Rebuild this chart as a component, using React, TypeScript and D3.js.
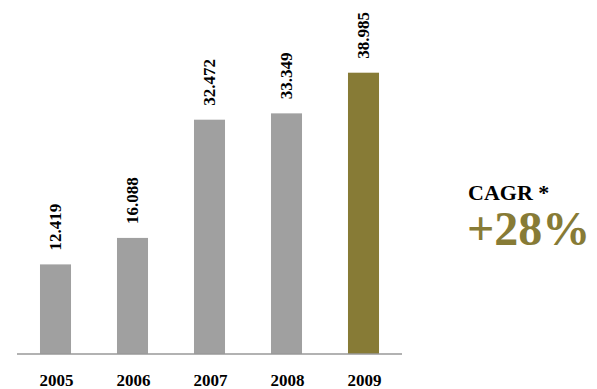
import React from "react";
import * as d3 from "d3";

const years = ["2005", "2006", "2007", "2008", "2009"];
const values = [12.419, 16.088, 32.472, 33.349, 38.985];
const valueLabels = ["12.419", "16.088", "32.472", "33.349", "38.985"];
const cagrTitle = "CAGR *";
const cagrValue = "+28%";

const W = 597;
const H = 389;
const GRAY = "#a0a0a0";
const OLIVE = "#877b36";

export default function App() {
  const x = d3
    .scaleBand<string>()
    .domain(years)
    .range([17, 402])
    .paddingInner(0.597)
    .paddingOuter(0.2985);
  const y = d3.scaleLinear().domain([0, 38.985]).range([354, 72.7]);
  const font = "'Liberation Serif', 'Times New Roman', serif";
  return (
    <svg
      width={W}
      height={H}
      style={{ position: "absolute", left: 0, top: 0, background: "#fff" }}
    >
      {years.map((yr, i) => {
        const bx = x(yr)!;
        const top = y(values[i]);
        const cx = bx + x.bandwidth() / 2;
        return (
          <g key={yr}>
            <rect
              x={bx}
              y={top}
              width={x.bandwidth()}
              height={y(0) - top}
              fill={i === years.length - 1 ? OLIVE : GRAY}
            />
            <text
              transform={`translate(${cx},${top - 14}) rotate(-90)`}
              dy="0.35em"
              fontFamily={font}
              fontWeight="bold"
              fontSize={17}
              fill="#000"
            >
              {valueLabels[i]}
            </text>
            <text
              x={cx + 1}
              y={386}
              textAnchor="middle"
              fontFamily={font}
              fontWeight="bold"
              fontSize={17}
              fill="#000"
            >
              {yr}
            </text>
          </g>
        );
      })}
      <line x1={17} x2={402} y1={354} y2={354} stroke="#999" strokeWidth={1.5} />
      <text x={468} y={200} fontFamily={font} fontWeight="bold" fontSize={22} fill="#000">
        {cagrTitle}
      </text>
      <text x={467} y={245} fontFamily={font} fontWeight="bold" fontSize={48} fill={OLIVE}>
        {cagrValue}
      </text>
    </svg>
  );
}
